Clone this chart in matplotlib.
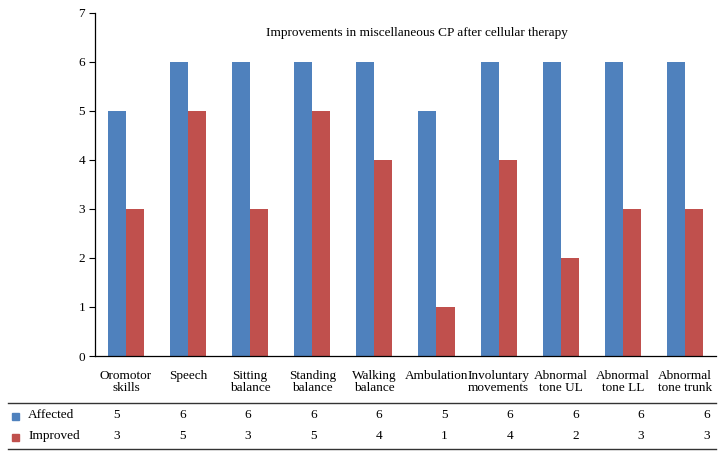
import numpy as np
from matplotlib import pyplot as plt
from matplotlib.patches import Rectangle

categories = ["Oromotor\nskills", "Speech", "Sitting\nbalance", "Standing\nbalance",
              "Walking\nbalance", "Ambulation", "Involuntary\nmovements",
              "Abnormal\ntone UL", "Abnormal\ntone LL", "Abnormal\ntone trunk"]
affected = [5, 6, 6, 6, 6, 5, 6, 6, 6, 6]
improved = [3, 5, 3, 5, 4, 1, 4, 2, 3, 3]
series_names = ["Affected", "Improved"]
colors = ["#4F81BD", "#C0504D"]

plt.rcParams['font.family'] = ['Liberation Serif', 'DejaVu Serif']
plt.rcParams['font.size'] = 9.5

fig = plt.figure(figsize=(7.24, 4.58), dpi=100)
ax = fig.add_axes([0.131, 0.2227, 0.858, 0.749])

x = np.arange(len(categories))
w = 0.29
ax.bar(x - w / 2, affected, w, color=colors[0])
ax.bar(x + w / 2, improved, w, color=colors[1])

ax.set_xlim(-0.5, len(categories) - 0.5)
ax.set_ylim(0, 7)
ax.set_yticks(range(8))
ax.set_xticks(x)
ax.set_xticklabels(categories, linespacing=1.0)
ax.tick_params(axis='x', length=0, pad=10)
ax.tick_params(axis='y', length=4, width=0.8, direction='out', pad=3)
ax.spines['top'].set_visible(False)
ax.spines['right'].set_visible(False)
ax.spines['left'].set_linewidth(0.9)
ax.spines['bottom'].set_linewidth(0.9)
ax.text(0.518, 0.942, "Improvements in miscellaneous CP after cellular therapy",
        transform=ax.transAxes, ha='center', va='center', fontsize=9.5)

# data table below the chart
W, H = 724, 458
def fx(px):
    return px / W
def fy(py):
    return 1 - py / H

fig.add_artist(plt.Line2D([fx(8), fx(716)], [fy(403), fy(403)], color='#333333', lw=1.0))
fig.add_artist(plt.Line2D([fx(8), fx(716)], [fy(449), fy(449)], color='#333333', lw=1.0))

row_y = [415, 436]
for r, (name, vals) in enumerate(zip(series_names, [affected, improved])):
    yy = fy(row_y[r])
    fig.add_artist(Rectangle((fx(12), yy - 0.011), 7 / W, 7 / H, color=colors[r],
                             transform=fig.transFigure))
    fig.text(fx(28), yy, name, ha='left', va='center')
    for i, v in enumerate(vals):
        fig.text(fx(117 + 65.5 * i), yy, str(v), ha='center', va='center')

fig.savefig("out.png", dpi=100)
